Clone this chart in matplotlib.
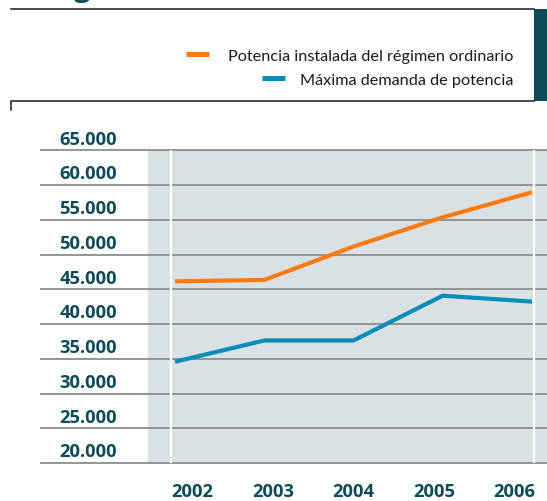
import matplotlib
matplotlib.use("Agg")
import matplotlib.pyplot as plt
import matplotlib.transforms as mtransforms
from matplotlib.lines import Line2D
from matplotlib.patches import Rectangle

# ---------------- data ----------------
years = [2002, 2003, 2004, 2005, 2006]
potencia_instalada = [46150, 46340, 51150, 55360, 58960]
maxima_demanda = [34570, 37630, 37630, 44080, 43220]
series_labels = ["Potencia instalada del régimen ordinario",
                 "Máxima demanda de potencia"]
y_ticks = [20000, 25000, 30000, 35000, 40000, 45000, 50000, 55000, 60000, 65000]
y_tick_labels = ["20.000", "25.000", "30.000", "35.000", "40.000",
                 "45.000", "50.000", "55.000", "60.000", "65.000"]
x_tick_labels = ["2002", "2003", "2004", "2005", "2006"]

# ---------------- style ----------------
ORANGE = "#ff7b10"
BLUE = "#0a8cba"
SHADE = "#d9e1e4"
GRID = "#8c8c8c"
TEAL = "#0e4b58"
DARK = "#1a1a1a"

W, H = 547, 502
fig = plt.figure(figsize=(W / 100, H / 100), dpi=100)


def fx(px):
    return px / W


def fy(py):
    return 1 - py / H


# axes box in pixel layout
AX_L, AX_R, AX_T, AX_B = 41, 547, 151.3, 464
ax = fig.add_axes([fx(AX_L), fy(AX_B), fx(AX_R) - fx(AX_L), fy(AX_T) - fy(AX_B)])
ax.axis("off")

# x scale: first year at px 175, 89.25 px per year
PX_FIRST, PX_STEP = 175.0, 89.25
ax.set_xlim(years[0] - (PX_FIRST - AX_L) / PX_STEP,
            years[0] + (AX_R - PX_FIRST) / PX_STEP)
ax.set_ylim(y_ticks[0], y_ticks[-1])

# shaded plot band
ax.axvspan(years[0] - (PX_FIRST - 148) / PX_STEP, ax.get_xlim()[1],
           color=SHADE, lw=0, zorder=0)

# horizontal grid lines
for v in y_ticks:
    ax.axhline(v, color=GRID, lw=1.3, zorder=1, clip_on=False)

# white separators
ax.axvline(years[0] - 0.048, color="white", lw=1.7, zorder=2)
ax.axvline(years[-1] + 0.02, color="white", lw=1.7, zorder=2)

# data lines
ax.plot(years, potencia_instalada, color=ORANGE, lw=3.0,
        solid_capstyle="butt", solid_joinstyle="miter", zorder=3)
ax.plot(years, maxima_demanda, color=BLUE, lw=3.0,
        solid_capstyle="butt", solid_joinstyle="miter", zorder=3)

# y tick labels (inside axes, above each grid line)
lab_font = dict(family=["Open Sans", "DejaVu Sans"], fontweight="bold",
                fontsize=13.2, color=TEAL)
ytrans = mtransforms.blended_transform_factory(ax.transAxes, ax.transData) + \
    mtransforms.ScaledTranslation(0, 6.7 / 100, fig.dpi_scale_trans)
for v, lab in zip(y_ticks, y_tick_labels):
    ax.text((117 - AX_L) / (AX_R - AX_L), v, lab, transform=ytrans,
            ha="right", va="baseline", **lab_font)

# x tick labels
xtrans = ax.transAxes + mtransforms.ScaledTranslation(0, -32.7 / 100, fig.dpi_scale_trans)
x0 = (192.5 - AX_L) / (AX_R - AX_L)
xstep = 80.5 / (AX_R - AX_L)
for i, lab in enumerate(x_tick_labels):
    ax.text(x0 + i * xstep, 0, lab, transform=xtrans,
            ha="center", va="baseline", **lab_font)

# ---------------- header ----------------
fig.add_artist(Line2D([fx(11), fx(534)], [fy(10), fy(10)],
                      transform=fig.transFigure, color=DARK, lw=1.1))
fig.add_artist(Line2D([fx(11), fx(11), fx(534)], [fy(111), fy(102), fy(102)],
                      transform=fig.transFigure, color=DARK, lw=1.1))
fig.add_artist(Rectangle((fx(534), fy(102)), fx(547) - fx(534), fy(10) - fy(102),
                         transform=fig.transFigure, color=TEAL, lw=0))
# descender of the (cut off) title above the chart
fig.text(fx(82.5), fy(3.2), "g", ha="center", va="bottom", fontsize=21,
         color=TEAL, family=["Open Sans", "DejaVu Sans"], fontweight="bold")

# legend (manual, right aligned)
leg_font = dict(family=["Lato", "DejaVu Sans"], fontsize=11.7, color=DARK)
for (color, lab, y_mid, y_base, hx0, hx1) in [
        (ORANGE, series_labels[0], 55, 60.7, 186, 209),
        (BLUE, series_labels[1], 79, 85, 262, 285)]:
    fig.add_artist(Line2D([fx(hx0), fx(hx1)], [fy(y_mid), fy(y_mid)],
                          transform=fig.transFigure, color=color, lw=3.6,
                          solid_capstyle="butt"))
    fig.text(fx(513), fy(y_base), lab, ha="right", va="baseline", **leg_font)

fig.savefig("out.png", dpi=100)
